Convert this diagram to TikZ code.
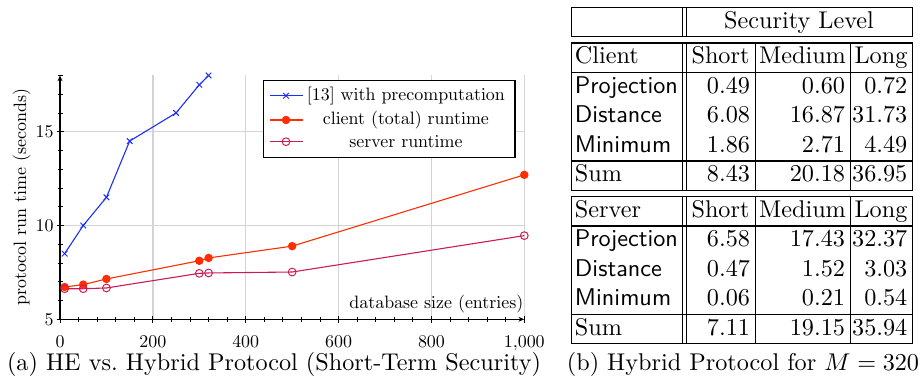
\documentclass[tikz,border=0pt]{standalone}
\usetikzlibrary{arrows.meta,shapes.misc}
\definecolor{cblue}{RGB}{25,45,255}
\definecolor{cclient}{RGB}{255,45,0}
\definecolor{cserver}{RGB}{205,25,85}
\definecolor{cgrid}{RGB}{212,212,212}
\font\plotfont=cmr10 at 7.4pt
\begin{document}
\begin{tikzpicture}[x=0.413pt,y=-0.413pt,
  txt/.style={inner sep=0pt,font=\fontsize{10}{12}\selectfont},
  stxt/.style={inner sep=0pt,font=\fontsize{10}{12}\selectfont\sffamily},
  ptxt/.style={inner sep=0pt,font=\plotfont},
  tline/.style={line width=0.42pt},
  pline/.style={line width=0.45pt},
  fmark/.style={circle,fill=cclient,inner sep=0pt,minimum size=3.5pt},
  omark/.style={circle,draw=cserver,line width=0.4pt,inner sep=0pt,minimum size=3.2pt},
  xmark/.style={cross out,draw=cblue,line width=0.4pt,inner sep=0pt,minimum size=1.9pt},
  axarrow/.style={-{Stealth[length=2.4pt,width=2pt]},line width=0.42pt},
]
\useasboundingbox (0,0) rectangle (924,381);

% ---------- grid ----------
\foreach \v in {200,400,600,800,1000}
  \draw[cgrid,line width=0.6pt] ({60+0.4643*\v},319.3) -- ({60+0.4643*\v},75.4);
\foreach \v in {10,15}
  \draw[cgrid,line width=0.6pt] (60,{413.1-18.76*\v}) -- (524.3,{413.1-18.76*\v});

% ---------- ticks ----------
\foreach \v in {0,40,...,1000}
  \draw[line width=0.35pt] ({60+0.4643*\v},316.8) -- ({60+0.4643*\v},321.8);
\foreach \v in {5,...,18}
  \draw[line width=0.35pt] (57.5,{413.1-18.76*\v}) -- (62.5,{413.1-18.76*\v});
\foreach \v in {0,200,...,1000}
  \draw[line width=0.35pt] ({60+0.4643*\v},315.8) -- ({60+0.4643*\v},322.8);
\foreach \v in {5,10,15}
  \draw[line width=0.35pt] (56.5,{413.1-18.76*\v}) -- (63.5,{413.1-18.76*\v});

% ---------- axes ----------
\coordinate (O) at (60,319.3);
\coordinate (Ytop) at (60,75.4);
\coordinate (Xend) at (524.3,319.3);
\draw[axarrow] (O) -- (Ytop);
\draw[axarrow] (O) -- (Xend);

% tick labels
\foreach \v/\l in {0/0,200/200,400/400,600/600,800/800,1000/{1,000}}
  \node[ptxt,anchor=base] (xl\v) at ({60+0.4643*\v},348) {\l};
\foreach \v in {5,10,15}
  \node[ptxt,anchor=east] (yl\v) at (54,{413.1-18.76*\v}) {\v};
\node[ptxt,rotate=90] (ylab) at (21.7,197) {protocol run time (seconds)};
\node[ptxt,anchor=east] (xlab) at (524,304) {database size (entries)};

% ---------- data ----------
\begin{scope}[shift={(60,413.1)},xscale=0.4643,yscale=-18.76]
  \draw[cblue,pline] plot coordinates {(10,8.5) (50,10) (100,11.5) (150,14.5) (250,16) (300,17.5) (320,18)};
  \foreach \x/\y [count=\i] in {10/8.5,50/10,100/11.5,150/14.5,250/16,300/17.5,320/18}
    \node[xmark] (b\i) at (\x,\y) {};
  \draw[cclient,pline] plot coordinates {(10,6.72) (50,6.85) (100,7.15) (300,8.12) (320,8.27) (500,8.9) (1000,12.7)};
  \draw[cserver,pline] plot coordinates {(10,6.63) (50,6.63) (100,6.67) (300,7.45) (320,7.47) (500,7.52) (1000,9.46)};
  \foreach \x/\y [count=\i] in {10/6.72,50/6.85,100/7.15,300/8.12,320/8.27,500/8.9,1000/12.7}
    \node[fmark] (c\i) at (\x,\y) {};
  \foreach \x/\y [count=\i] in {10/6.63,50/6.63,100/6.67,300/7.45,320/7.47,500/7.52,1000/9.46}
    \node[omark] (s\i) at (\x,\y) {};
\end{scope}

% ---------- legend ----------
\coordinate (lgA) at (263.3,80.7);
\coordinate (lgB) at (515,157.7);
\draw[tline,fill=white] (lgA) rectangle (lgB);
\coordinate (l1a) at (270,95.7); \coordinate (l1b) at (302.7,95.7);
\coordinate (l2a) at (270,120); \coordinate (l2b) at (302.7,120);
\coordinate (l3a) at (270,141.7); \coordinate (l3b) at (302.7,141.7);
\draw[cblue,pline] (l1a) -- (l1b);
\draw[cclient,pline] (l2a) -- (l2b);
\draw[cserver,pline] (l3a) -- (l3b);
\node[xmark] (lm1) at (286,95.7) {};
\node[fmark] (lm2) at (286,120) {};
\node[omark] (lm3) at (286,141.7) {};
\node[ptxt] (lt1) at (406,95.7) {[13] with precomputation};
\node[ptxt] (lt2) at (406,120) {client (total) runtime};
\node[ptxt] (lt3) at (406,141.7) {server runtime};

% ---------- tables ----------
% table 1
\draw[tline] (571,7.3) rectangle (912.5,36.7);
\draw[tline] (682.5,7.3) -- (682.5,36.7);
\draw[tline] (686,7.3) -- (686,36.7);
\node[txt,anchor=base] (sec) at (799,28.2) {Security Level};
% table 2
\draw[tline] (571,43) rectangle (912.5,190.5);
\draw[tline] (571,72.5) -- (912.5,72.5);
\draw[tline] (571,161) -- (912.5,161);
\foreach \xx in {682.5,686,755,850}
  \draw[tline] (\xx,43) -- (\xx,190.5);
% table 3
\draw[tline] (571,196.5) rectangle (912.5,343.8);
\draw[tline] (571,226) -- (912.5,226);
\draw[tline] (571,314.3) -- (912.5,314.3);
\foreach \xx in {682.5,686,755,850}
  \draw[tline] (\xx,196.5) -- (\xx,343.8);

% headers
\node[txt,anchor=base west] (hc) at (574.5,64) {Client};
\node[txt,anchor=base west] (hs) at (574.5,217.5) {Server};
\foreach \yy/\n in {64/a,217.5/b}{
  \node[txt,anchor=base] (hS\n) at (720.5,\yy) {Short};
  \node[txt,anchor=base] (hM\n) at (802.5,\yy) {Medium};
  \node[txt,anchor=base] (hL\n) at (881,\yy) {Long};
}
% client rows
\foreach \yy/\lab/\a/\b/\c [count=\i] in {93.5/Projection/0.49/0.60/0.72, 123/Distance/6.08/16.87/31.73, 152.5/Minimum/1.86/2.71/4.49}{
  \node[stxt,anchor=base west] (cr\i) at (574.5,\yy) {\lab};
  \node[txt,anchor=base east] (ca\i) at (750.5,\yy) {\a};
  \node[txt,anchor=base east] (cb\i) at (845.5,\yy) {\b};
  \node[txt,anchor=base east] (cc\i) at (907.8,\yy) {\c};
}
\node[txt,anchor=base west] (csum) at (574.5,182) {Sum};
\node[txt,anchor=base east] (csa) at (750.5,182) {8.43};
\node[txt,anchor=base east] (csb) at (845.5,182) {20.18};
\node[txt,anchor=base east] (csc) at (907.8,182) {36.95};
% server rows
\foreach \yy/\lab/\a/\b/\c [count=\i] in {247/Projection/6.58/17.43/32.37, 276.5/Distance/0.47/1.52/3.03, 306/Minimum/0.06/0.21/0.54}{
  \node[stxt,anchor=base west] (sr\i) at (574.5,\yy) {\lab};
  \node[txt,anchor=base east] (sa\i) at (750.5,\yy) {\a};
  \node[txt,anchor=base east] (sb\i) at (845.5,\yy) {\b};
  \node[txt,anchor=base east] (sc\i) at (907.8,\yy) {\c};
}
\node[txt,anchor=base west] (ssum) at (574.5,335.5) {Sum};
\node[txt,anchor=base east] (ssa) at (750.5,335.5) {7.11};
\node[txt,anchor=base east] (ssb) at (845.5,335.5) {19.15};
\node[txt,anchor=base east] (ssc) at (907.8,335.5) {35.94};

% ---------- captions ----------
\node[txt,anchor=base] (capa) at (274,370.5) {(a) HE vs.\ Hybrid Protocol (Short-Term Security)};
\node[txt,anchor=base] (capb) at (743,370.5) {(b) Hybrid Protocol for $M = 320$};
\end{tikzpicture}
\end{document}
